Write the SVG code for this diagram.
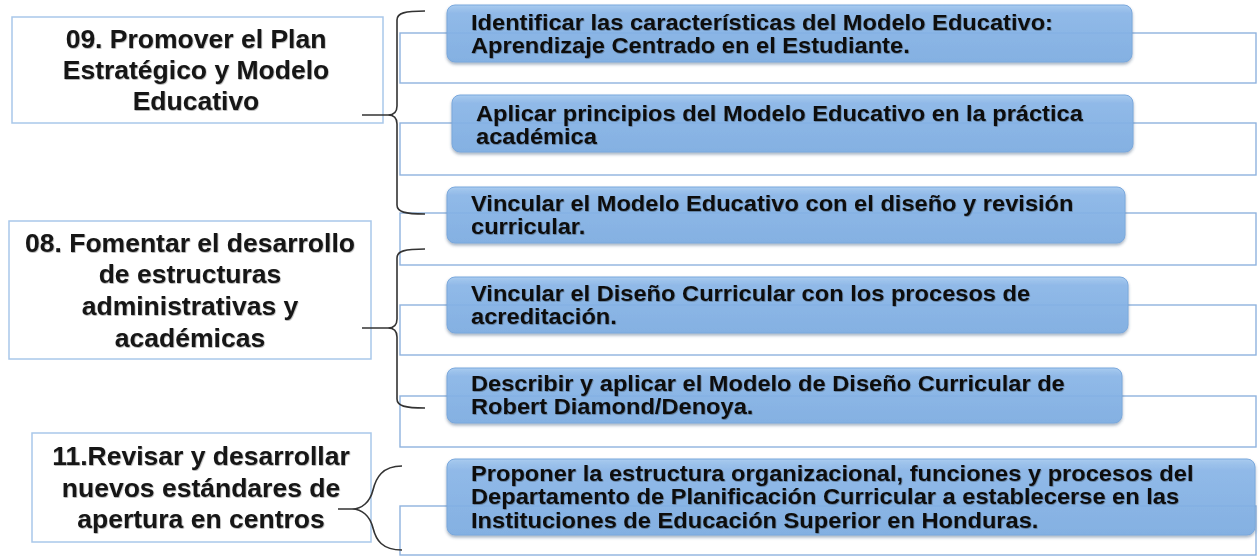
<svg xmlns="http://www.w3.org/2000/svg" width="1259" height="557" viewBox="0 0 1259 557">
<defs>
<linearGradient id="bg" x1="0" y1="0" x2="0" y2="1">
<stop offset="0" stop-color="#a2c8f0"/>
<stop offset="0.15" stop-color="#8cb8ea"/>
<stop offset="1" stop-color="#7eaee3"/>
</linearGradient>
<filter id="sh" x="-5%" y="-20%" width="110%" height="150%">
<feDropShadow dx="0" dy="2" stdDeviation="1.6" flood-color="#2a4a70" flood-opacity="0.45"/>
</filter>
<filter id="ts" x="-5%" y="-20%" width="110%" height="150%">
<feDropShadow dx="0.6" dy="0.8" stdDeviation="0.7" flood-color="#000" flood-opacity="0.35"/>
</filter>
</defs>
<style>
.lb{fill:#fff;stroke:#a9c8ea;stroke-width:1.5}
.wr{fill:#fff;stroke:#8fb3de;stroke-width:1.4}
.bl{fill:url(#bg);fill-opacity:0.9;stroke:#7aa8dc;stroke-width:1;filter:url(#sh)}
.lt{font-family:"Liberation Sans",Arial,sans-serif;font-weight:bold;font-size:26.5px;fill:#141414;text-anchor:middle;filter:url(#ts)}
.bt{font-family:"Liberation Sans",Arial,sans-serif;font-weight:bold;font-size:22px;fill:#111;filter:url(#ts)}
.br{fill:none;stroke:#333;stroke-width:1.6}
</style>
<rect width="1259" height="557" fill="#fff"/>

<g id="n09">
<rect class="lb" x="12" y="17" width="371" height="106"/>
<text class="lt"><tspan x="196" y="48">09. Promover el Plan</tspan><tspan x="196" y="79">Estratégico y Modelo</tspan><tspan x="196" y="110">Educativo</tspan></text>
</g>
<g id="n08">
<rect class="lb" x="9" y="221" width="362" height="138"/>
<text class="lt"><tspan x="190" y="252">08. Fomentar el desarrollo</tspan><tspan x="190" y="283">de estructuras</tspan><tspan x="190" y="315">administrativas y</tspan><tspan x="190" y="347">académicas</tspan></text>
</g>
<g id="n11">
<rect class="lb" x="32" y="433" width="339" height="109"/>
<text class="lt"><tspan x="201" y="465">11.Revisar y desarrollar</tspan><tspan x="201" y="497">nuevos estándares de</tspan><tspan x="201" y="528">apertura en centros</tspan></text>
</g>

<g id="i1">
<rect class="wr" x="400" y="33" width="856" height="50"/>
<rect class="bl" x="447" y="5" width="685" height="57" rx="8"/>
<text class="bt" transform="translate(471 0) scale(1.075 1)"><tspan x="0" y="30">Identificar las características del Modelo Educativo:</tspan><tspan x="0" y="53">Aprendizaje Centrado en el Estudiante.</tspan></text>
</g>
<g id="i2">
<rect class="wr" x="400" y="123" width="856" height="52"/>
<rect class="bl" x="452" y="95" width="681" height="57" rx="8"/>
<text class="bt" transform="translate(476 0) scale(1.075 1)"><tspan x="0" y="121">Aplicar principios del Modelo Educativo en la práctica</tspan><tspan x="0" y="144">académica</tspan></text>
</g>
<g id="i3">
<rect class="wr" x="400" y="213" width="856" height="52"/>
<rect class="bl" x="447" y="187" width="678" height="56" rx="8"/>
<text class="bt" transform="translate(471 0) scale(1.075 1)"><tspan x="0" y="211">Vincular el Modelo Educativo con el diseño y revisión</tspan><tspan x="0" y="234">curricular.</tspan></text>
</g>
<g id="i4">
<rect class="wr" x="400" y="305" width="856" height="50"/>
<rect class="bl" x="447" y="277" width="681" height="56" rx="8"/>
<text class="bt" transform="translate(471 0) scale(1.075 1)"><tspan x="0" y="301">Vincular el Diseño Curricular con los procesos de</tspan><tspan x="0" y="324">acreditación.</tspan></text>
</g>
<g id="i5">
<rect class="wr" x="400" y="396" width="856" height="51"/>
<rect class="bl" x="447" y="368" width="675" height="55" rx="8"/>
<text class="bt" transform="translate(471 0) scale(1.075 1)"><tspan x="0" y="391">Describir y aplicar el Modelo de Diseño Curricular de</tspan><tspan x="0" y="414">Robert Diamond/Denoya.</tspan></text>
</g>
<g id="i6">
<rect class="wr" x="400" y="506" width="856" height="49"/>
<rect class="bl" x="447" y="459" width="808" height="76" rx="8"/>
<text class="bt" transform="translate(471 0) scale(1.075 1)"><tspan x="0" y="481">Proponer la estructura organizacional, funciones y procesos del</tspan><tspan x="0" y="504">Departamento de Planificación Curricular a establecerse en las</tspan><tspan x="0" y="528">Instituciones de Educación Superior en Honduras.</tspan></text>
</g>

<g id="connectors">
<path class="br" d="M425,11 C405,11 397,13 397,20 L397,106 C397,112 394,115 388,115 L362,115 M388,115 C394,115 397,118 397,124 L397,205 C397,212 405,214 425,214"/>
<path class="br" d="M425,249 C405,249 397,251 397,258 L397,319 C397,325 394,328 388,328 L362,328 M388,328 C394,328 397,331 397,337 L397,399 C397,406 405,408 425,408"/>
<path class="br" d="M402,466 C382,466 376,478 373,490 C370,502 362,509 352,509 L338,509 M352,509 C362,509 370,516 373,528 C376,540 382,550 402,550"/>
</g>
</svg>
